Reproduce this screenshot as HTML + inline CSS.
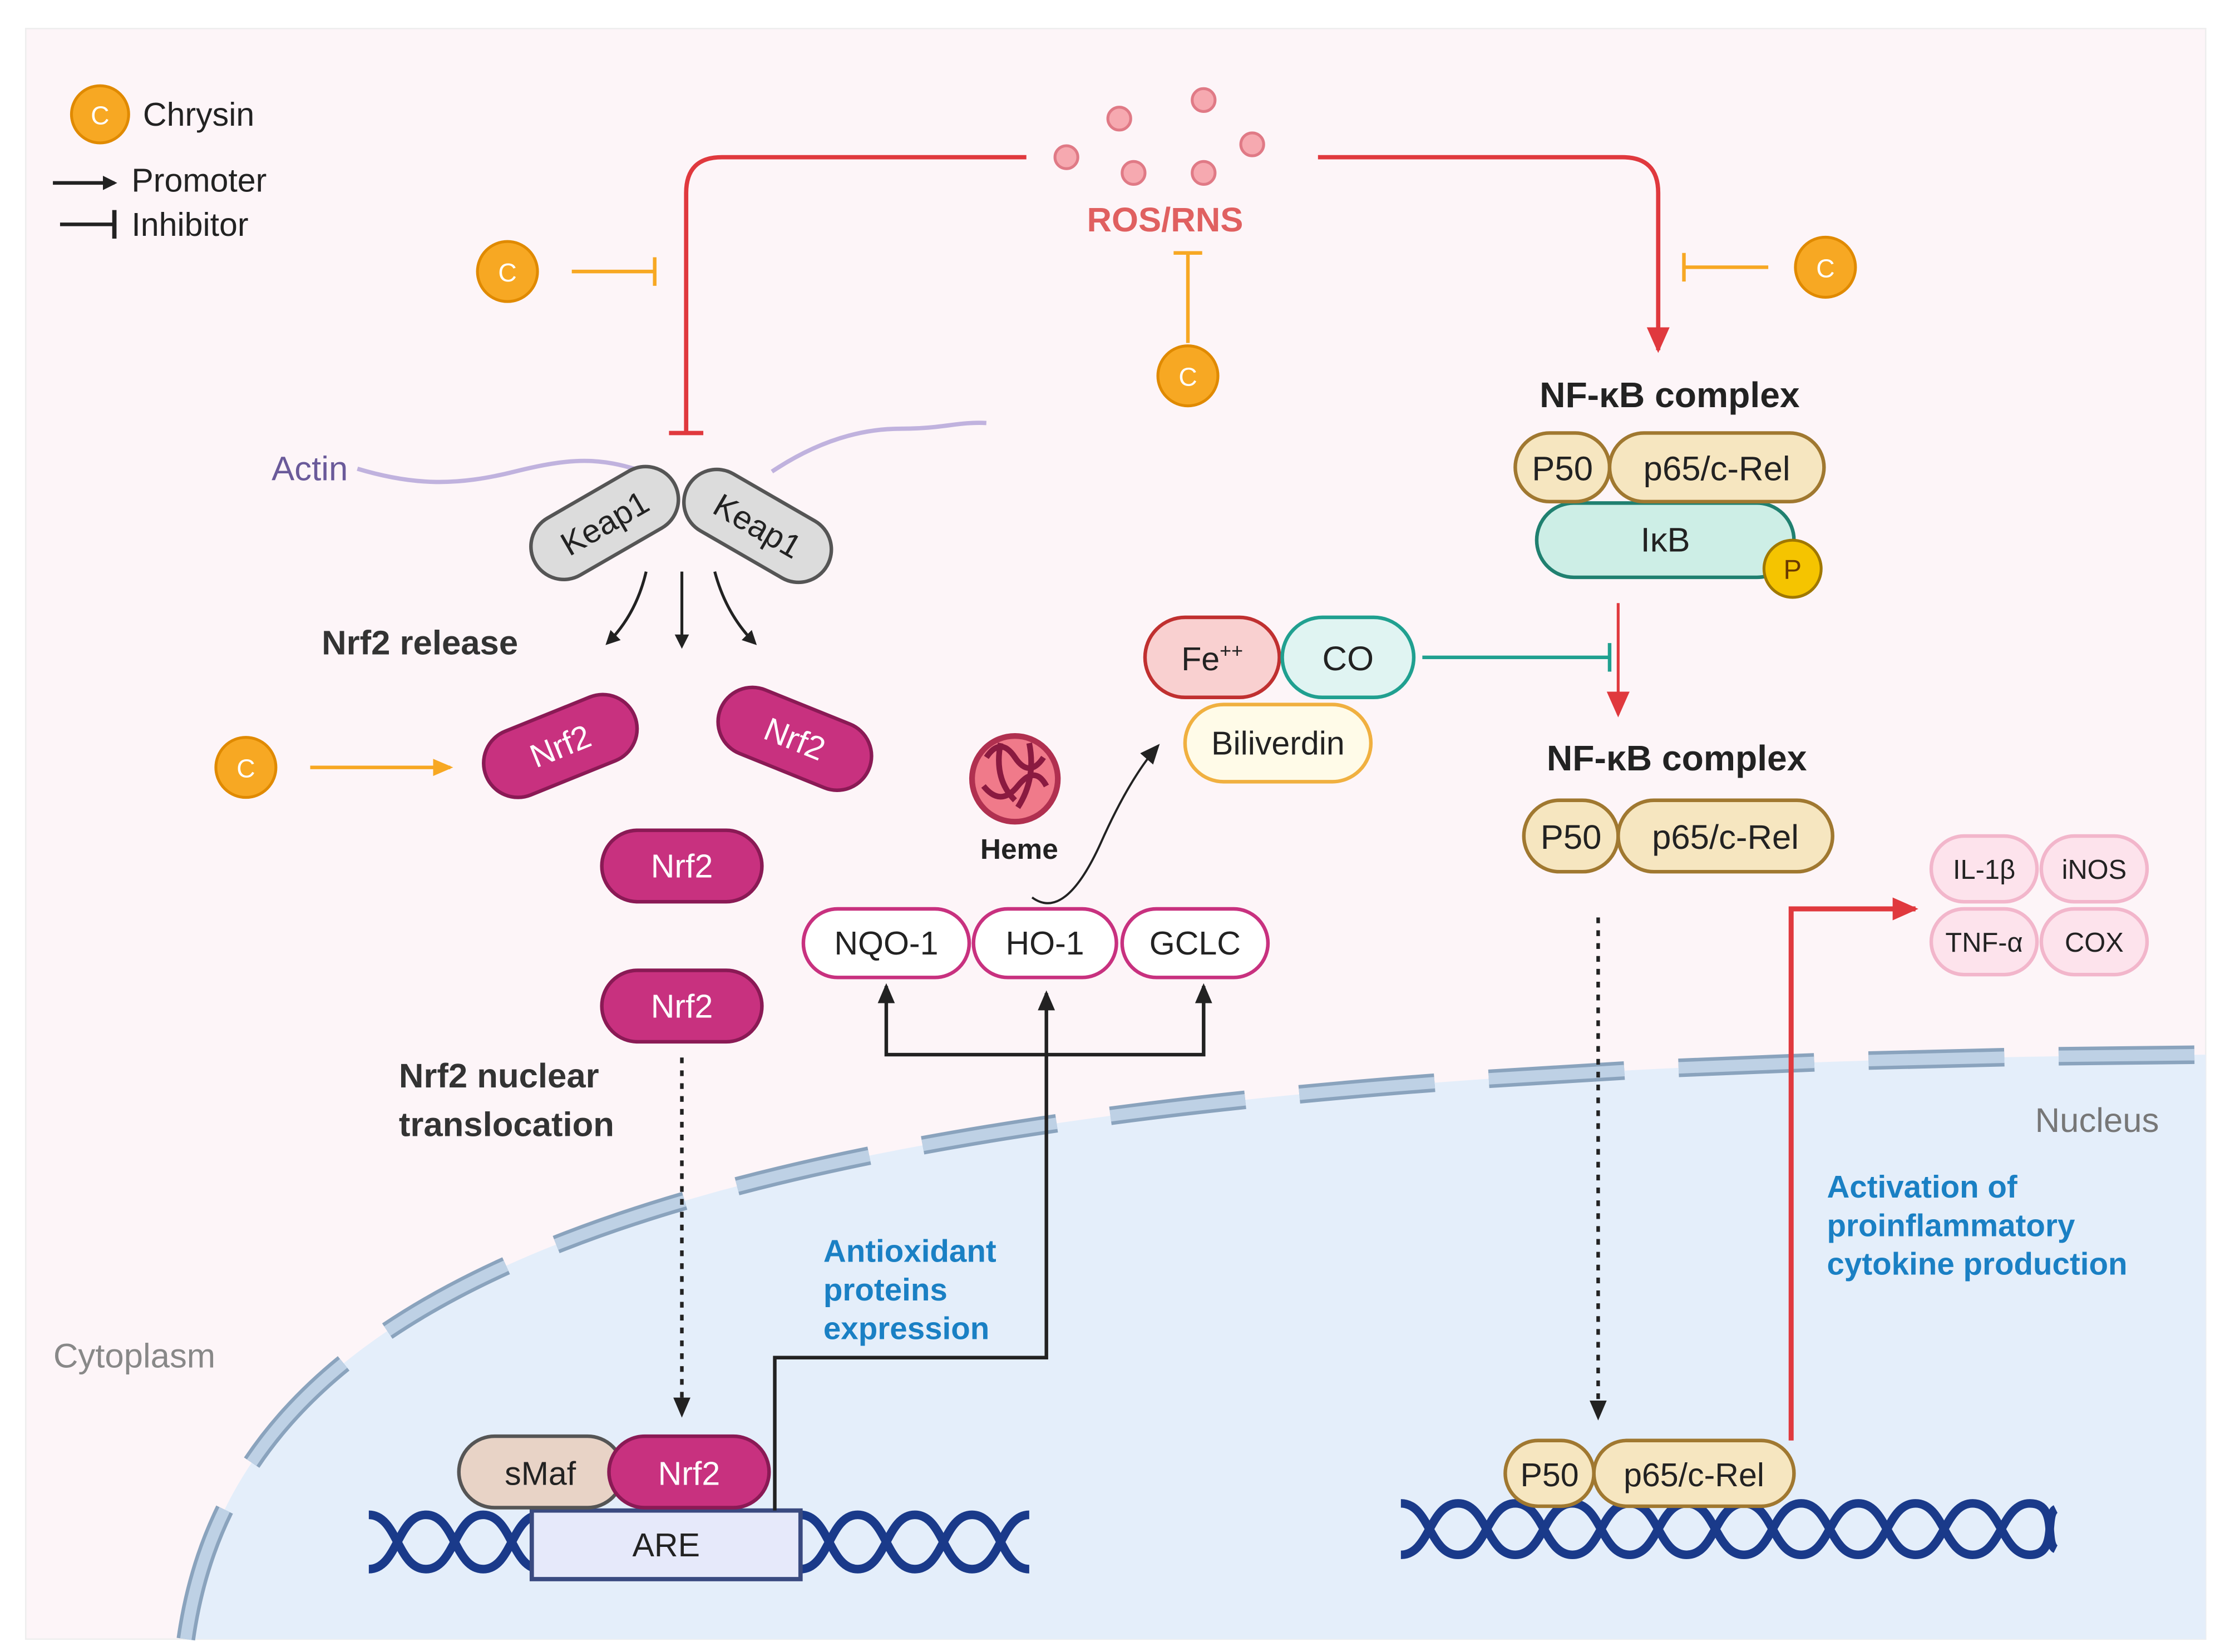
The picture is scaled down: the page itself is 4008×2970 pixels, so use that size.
<!DOCTYPE html>
<html><head><meta charset="utf-8"><style>
html,body{margin:0;padding:0;background:#fff}
svg{display:block}
text{font-family:"Liberation Sans",sans-serif}
</style></head><body>
<svg width="4008" height="2970" viewBox="0 0 1560 1156" xmlns="http://www.w3.org/2000/svg">
<defs>
<marker id="ab" markerWidth="10" markerHeight="10" refX="8" refY="5" orient="auto" markerUnits="userSpaceOnUse"><path d="M0,0 L10,5 L0,10 Z" fill="#222"/></marker>
<marker id="ar" markerWidth="20" markerHeight="20" refX="16" refY="10" orient="auto" markerUnits="userSpaceOnUse"><path d="M0,2 L18,10 L0,18 Z" fill="#e0393e"/></marker>
<marker id="ao" markerWidth="14" markerHeight="14" refX="12" refY="7" orient="auto" markerUnits="userSpaceOnUse"><path d="M0,1 L14,7 L0,13 Z" fill="#f7a823"/></marker>
<marker id="ak" markerWidth="14" markerHeight="14" refX="12" refY="7" orient="auto" markerUnits="userSpaceOnUse"><path d="M0,1 L14,7 L0,13 Z" fill="#222"/></marker>
</defs>
<rect x="18" y="20" width="1525" height="1127" fill="#fdf5f8" stroke="#eee" stroke-width="1"/>
<!-- nucleus -->
<path d="M130,1147 C 165,900 450,745 1543,738 L1543,1147 Z" fill="#e4eefa"/>
<path d="M130,1147 C 165,900 450,745 1543,738" fill="none" stroke="#8aa3bd" stroke-width="13" stroke-dasharray="95 38"/>
<path d="M130,1147 C 165,900 450,745 1543,738" fill="none" stroke="#bed1e5" stroke-width="8" stroke-dasharray="95 38"/>
<text x="1467" y="792" font-size="24" fill="#777" text-anchor="middle">Nucleus</text>
<text x="94" y="957" font-size="24" fill="#888" text-anchor="middle">Cytoplasm</text>

<!-- legend -->
<circle cx="70" cy="80" r="20" fill="#f7a823" stroke="#e08a00" stroke-width="2"/><text x="70" y="87" font-size="18" fill="#fff" text-anchor="middle">C</text>
<text x="100" y="88" font-size="23" fill="#222">Chrysin</text>
<line x1="37" y1="128" x2="80" y2="128" stroke="#222" stroke-width="2.5" marker-end="url(#ab)"/>
<text x="92" y="134" font-size="23" fill="#222">Promoter</text>
<line x1="42" y1="157" x2="80" y2="157" stroke="#222" stroke-width="2.5"/><line x1="80" y1="147" x2="80" y2="167" stroke="#222" stroke-width="3"/>
<text x="92" y="165" font-size="23" fill="#222">Inhibitor</text>

<!-- ROS -->
<g fill="#f6a9b0" stroke="#e07a86" stroke-width="2">
<circle cx="783" cy="83" r="8"/><circle cx="842" cy="70" r="8"/><circle cx="876" cy="101" r="8"/><circle cx="746" cy="110" r="8"/><circle cx="793" cy="121" r="8"/><circle cx="842" cy="121" r="8"/></g>
<text x="815" y="162" font-size="24" font-weight="bold" fill="#e06060" text-anchor="middle">ROS/RNS</text>
<path d="M718,110 L505,110 Q480,110 480,135 L480,303" fill="none" stroke="#e0393e" stroke-width="3"/>
<line x1="468" y1="303" x2="492" y2="303" stroke="#e0393e" stroke-width="3"/>
<path d="M922,110 L1135,110 Q1160,110 1160,135 L1160,245" fill="none" stroke="#e0393e" stroke-width="3" marker-end="url(#ar)"/>

<!-- chrysin circles -->
<g fill="#f7a823" stroke="#e08a00" stroke-width="2">
<circle cx="355" cy="190" r="21"/><circle cx="831" cy="263" r="21"/><circle cx="1277" cy="187" r="21"/><circle cx="172" cy="537" r="21"/></g>
<g font-size="18" fill="#fff" text-anchor="middle"><text x="355" y="197">C</text><text x="831" y="270">C</text><text x="1277" y="194">C</text><text x="172" y="544">C</text></g>
<g stroke="#f7a823" stroke-width="2.5">
<line x1="400" y1="190" x2="458" y2="190"/><line x1="458" y1="180" x2="458" y2="200"/>
<line x1="831" y1="240" x2="831" y2="177"/><line x1="821" y1="177" x2="841" y2="177"/>
<line x1="1237" y1="187" x2="1178" y2="187"/><line x1="1178" y1="177" x2="1178" y2="197"/>
<line x1="217" y1="537" x2="315" y2="537" marker-end="url(#ao)"/></g>

<!-- actin -->
<path d="M250,328 C 290,340 320,340 360,330 S 420,320 450,330" fill="none" stroke="#c0b2de" stroke-width="3"/>
<path d="M540,330 C 570,310 600,300 630,300 S 670,295 690,296" fill="none" stroke="#c0b2de" stroke-width="3"/>
<text x="190" y="336" font-size="24" fill="#6a5a9a">Actin</text>

<!-- Keap1 -->
<g transform="translate(423,366) rotate(-30)"><rect x="-56" y="-23" width="112" height="46" rx="23" fill="#dcdcdc" stroke="#555" stroke-width="2.5"/><text y="8" font-size="23" text-anchor="middle" fill="#222">Keap1</text></g>
<g transform="translate(530,368) rotate(30)"><rect x="-56" y="-23" width="112" height="46" rx="23" fill="#dcdcdc" stroke="#555" stroke-width="2.5"/><text y="8" font-size="23" text-anchor="middle" fill="#222">Keap1</text></g>
<g stroke="#222" stroke-width="2" fill="none">
<path d="M452,400 Q445,430 425,450" marker-end="url(#ab)"/>
<line x1="477" y1="400" x2="477" y2="452" marker-end="url(#ab)"/>
<path d="M500,400 Q508,430 528,450" marker-end="url(#ab)"/></g>
<text x="225" y="458" font-size="24" font-weight="bold" fill="#333">Nrf2 release</text>

<!-- Nrf2 -->
<g transform="translate(392,522) rotate(-22)"><rect x="-56" y="-24" width="112" height="48" rx="24" fill="#c8317f" stroke="#8a1a55" stroke-width="2.5"/><text y="8" font-size="23" fill="#fff" text-anchor="middle">Nrf2</text></g>
<g transform="translate(556,517) rotate(22)"><rect x="-56" y="-24" width="112" height="48" rx="24" fill="#c8317f" stroke="#8a1a55" stroke-width="2.5"/><text y="8" font-size="23" fill="#fff" text-anchor="middle">Nrf2</text></g>
<rect x="421" y="581" width="112" height="50" rx="25" fill="#c8317f" stroke="#8a1a55" stroke-width="2.5"/><text x="477" y="614" font-size="23" fill="#fff" text-anchor="middle">Nrf2</text>
<rect x="421" y="679" width="112" height="50" rx="25" fill="#c8317f" stroke="#8a1a55" stroke-width="2.5"/><text x="477" y="712" font-size="23" fill="#fff" text-anchor="middle">Nrf2</text>
<text x="279" y="761" font-size="24" font-weight="bold" fill="#333">Nrf2 nuclear</text>
<text x="279" y="795" font-size="24" font-weight="bold" fill="#333">translocation</text>
<line x1="477" y1="740" x2="477" y2="990" stroke="#222" stroke-width="2.5" stroke-dasharray="4 5" marker-end="url(#ak)"/>

<!-- DNA left -->
<g fill="none" stroke="#1a3a8a" stroke-width="6">
<path d="M258,1060 C 278,1060 278,1098 298,1098 S 318,1060 338,1060 S 358,1098 378,1098"/>
<path d="M258,1098 C 278,1098 278,1060 298,1060 S 318,1098 338,1098 S 358,1060 378,1060"/>
<path d="M560,1060 C 580,1060 580,1098 600,1098 S 620,1060 640,1060 S 660,1098 680,1098 S 700,1060 720,1060"/>
<path d="M560,1098 C 580,1098 580,1060 600,1060 S 620,1098 640,1098 S 660,1060 680,1060 S 700,1098 720,1098"/>
</g>
<rect x="372" y="1057" width="188" height="48" fill="#e6e9fa" stroke="#3a4a80" stroke-width="3"/>
<text x="466" y="1089" font-size="23" text-anchor="middle" fill="#222">ARE</text>
<rect x="321" y="1005" width="115" height="50" rx="25" fill="#e8d3c6" stroke="#555" stroke-width="2.5"/><text x="378" y="1039" font-size="23" text-anchor="middle" fill="#222">sMaf</text>
<rect x="426" y="1005" width="112" height="50" rx="25" fill="#c8317f" stroke="#8a1a55" stroke-width="2.5"/><text x="482" y="1039" font-size="23" text-anchor="middle" fill="#fff">Nrf2</text>

<!-- DNA right -->
<g fill="none" stroke="#1a3a8a" stroke-width="6">
<path d="M980,1052 C 1000,1052 1000,1088 1020,1088 S 1040,1052 1060,1052 S 1080,1088 1100,1088 S 1120,1052 1140,1052 S 1160,1088 1180,1088 S 1200,1052 1220,1052 S 1240,1088 1260,1088 S 1280,1052 1300,1052 S 1320,1088 1340,1088 S 1360,1052 1380,1052 S 1400,1088 1420,1088 S 1430,1060 1438,1056"/>
<path d="M980,1088 C 1000,1088 1000,1052 1020,1052 S 1040,1088 1060,1088 S 1080,1052 1100,1052 S 1120,1088 1140,1088 S 1160,1052 1180,1052 S 1200,1088 1220,1088 S 1240,1052 1260,1052 S 1280,1088 1300,1088 S 1320,1052 1340,1052 S 1360,1088 1380,1088 S 1400,1052 1420,1052 S 1430,1080 1438,1084"/>
</g>

<!-- antioxidant arrows -->
<path d="M542,1057 L542,950 L732,950 L732,695" fill="none" stroke="#222" stroke-width="2.5" marker-end="url(#ak)"/>
<path d="M620,692 L620,738 L842,738 L842,692" fill="none" stroke="#222" stroke-width="2.5"/>
<path d="M620,700 L620,690" stroke="#222" stroke-width="2.5" marker-end="url(#ak)"/>
<path d="M842,700 L842,690" stroke="#222" stroke-width="2.5" marker-end="url(#ak)"/>
<g font-size="22" font-weight="bold" fill="#1a80c4">
<text x="576" y="883">Antioxidant</text><text x="576" y="910">proteins</text><text x="576" y="937">expression</text>
<text x="1278" y="838">Activation of</text><text x="1278" y="865">proinflammatory</text><text x="1278" y="892">cytokine production</text></g>

<!-- enzymes -->
<rect x="562" y="636" width="116" height="48" rx="24" fill="#fff" stroke="#c8317f" stroke-width="2.5"/><text x="620" y="668" font-size="23" text-anchor="middle" fill="#222">NQO-1</text>
<rect x="681" y="636" width="100" height="48" rx="24" fill="#fff" stroke="#c8317f" stroke-width="2.5"/><text x="731" y="668" font-size="23" text-anchor="middle" fill="#222">HO-1</text>
<rect x="785" y="636" width="102" height="48" rx="24" fill="#fff" stroke="#c8317f" stroke-width="2.5"/><text x="836" y="668" font-size="23" text-anchor="middle" fill="#222">GCLC</text>

<!-- heme -->
<g fill="none" stroke-width="4">
<circle cx="710" cy="545" r="30" fill="#f07a8a" stroke="#b03050"/>
<path d="M690,530 q10,-15 20,0 t20,0 M688,550 q12,15 24,0 t20,0 M700,520 q-5,25 10,40 M720,520 q5,25 -8,45" stroke="#8a1a40"/>
</g>
<text x="713" y="601" font-size="20" font-weight="bold" text-anchor="middle" fill="#222">Heme</text>
<path d="M722,628 Q745,645 770,590 Q790,545 810,522" fill="none" stroke="#222" stroke-width="1.5" marker-end="url(#ak)"/>

<!-- Fe CO Biliverdin -->
<rect x="801" y="432" width="94" height="56" rx="28" fill="#f9d0d0" stroke="#c03030" stroke-width="2.5"/><text x="848" y="469" font-size="23" text-anchor="middle" fill="#222">Fe<tspan font-size="14" dy="-9">++</tspan></text>
<rect x="897" y="432" width="92" height="56" rx="28" fill="#e0f4f2" stroke="#20a090" stroke-width="2.5"/><text x="943" y="469" font-size="24" text-anchor="middle" fill="#222">CO</text>
<rect x="829" y="493" width="130" height="54" rx="27" fill="#fffbe8" stroke="#f0b040" stroke-width="2.5"/><text x="894" y="528" font-size="23" text-anchor="middle" fill="#222">Biliverdin</text>
<line x1="995" y1="460" x2="1126" y2="460" stroke="#20a090" stroke-width="2.5"/><line x1="1126" y1="450" x2="1126" y2="470" stroke="#20a090" stroke-width="2.5"/>

<!-- NF-kB top -->
<text x="1168" y="285" font-size="25" font-weight="bold" text-anchor="middle" fill="#222">NF-κB complex</text>
<rect x="1075" y="352" width="180" height="52" rx="26" fill="#cdeee6" stroke="#208070" stroke-width="2.5"/><text x="1165" y="386" font-size="24" text-anchor="middle" fill="#222">IκB</text>
<rect x="1060" y="303" width="66" height="48" rx="24" fill="#f6e6c0" stroke="#a07830" stroke-width="2.5"/><text x="1093" y="336" font-size="24" text-anchor="middle" fill="#222">P50</text>
<rect x="1126" y="303" width="150" height="48" rx="24" fill="#f6e6c0" stroke="#a07830" stroke-width="2.5"/><text x="1201" y="336" font-size="24" text-anchor="middle" fill="#222">p65/c-Rel</text>
<circle cx="1254" cy="398" r="20" fill="#f5c400" stroke="#a07800" stroke-width="2"/><text x="1254" y="405" font-size="19" text-anchor="middle" fill="#6a3a00">P</text>
<line x1="1132" y1="422" x2="1132" y2="500" stroke="#e0393e" stroke-width="2" marker-end="url(#ar)"/>
<text x="1173" y="539" font-size="25" font-weight="bold" text-anchor="middle" fill="#222">NF-κB complex</text>
<rect x="1066" y="560" width="66" height="50" rx="25" fill="#f6e6c0" stroke="#a07830" stroke-width="2.5"/><text x="1099" y="594" font-size="24" text-anchor="middle" fill="#222">P50</text>
<rect x="1132" y="560" width="150" height="50" rx="25" fill="#f6e6c0" stroke="#a07830" stroke-width="2.5"/><text x="1207" y="594" font-size="24" text-anchor="middle" fill="#222">p65/c-Rel</text>
<line x1="1118" y1="642" x2="1118" y2="992" stroke="#222" stroke-width="2.5" stroke-dasharray="4 5" marker-end="url(#ak)"/>
<rect x="1053" y="1008" width="62" height="46" rx="23" fill="#f6e6c0" stroke="#a07830" stroke-width="2.5"/><text x="1084" y="1040" font-size="23" text-anchor="middle" fill="#222">P50</text>
<rect x="1115" y="1008" width="140" height="46" rx="23" fill="#f6e6c0" stroke="#a07830" stroke-width="2.5"/><text x="1185" y="1040" font-size="23" text-anchor="middle" fill="#222">p65/c-Rel</text>
<path d="M1253,1008 L1253,636 L1340,636" fill="none" stroke="#e0393e" stroke-width="3.5" marker-end="url(#ar)"/>

<!-- cytokines -->
<g fill="#fde3ec" stroke="#f2b6cb" stroke-width="2.5">
<rect x="1351" y="585" width="74" height="46" rx="23"/><rect x="1428" y="585" width="74" height="46" rx="23"/>
<rect x="1351" y="636" width="74" height="46" rx="23"/><rect x="1428" y="636" width="74" height="46" rx="23"/></g>
<g font-size="19" text-anchor="middle" fill="#222">
<text x="1388" y="615">IL-1β</text><text x="1465" y="615">iNOS</text><text x="1388" y="666">TNF-α</text><text x="1465" y="666">COX</text></g>
</svg>
</body></html>
